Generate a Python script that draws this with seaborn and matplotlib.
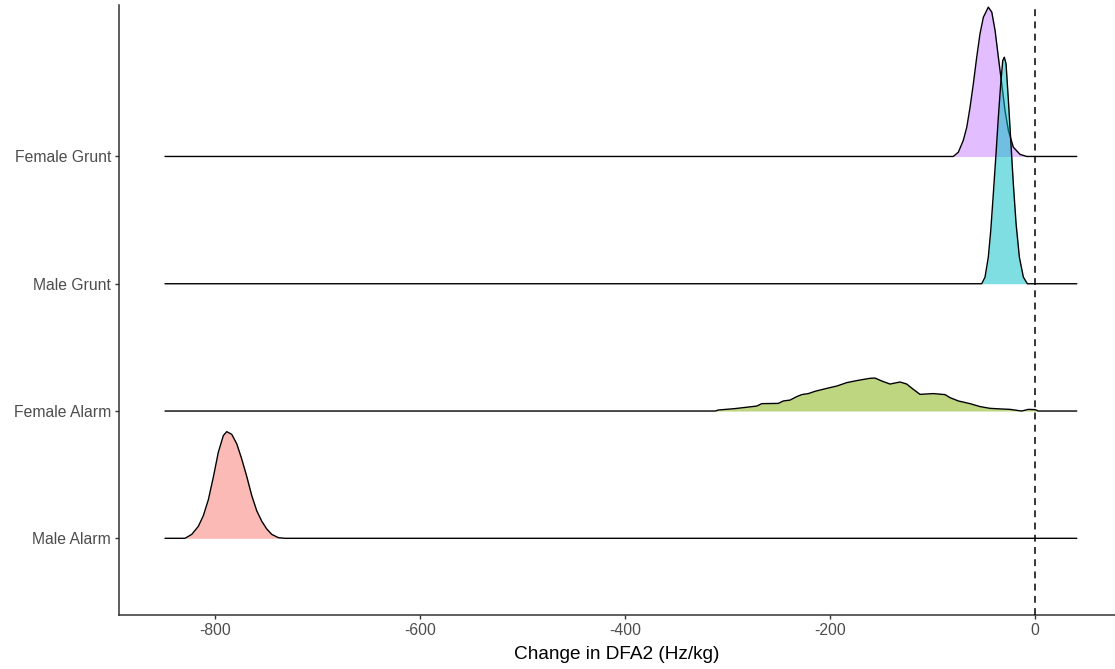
import numpy as np
import pandas as pd
import matplotlib
matplotlib.use("Agg")
import matplotlib.pyplot as plt
import seaborn as sns

# ---------------- data ----------------
groups = ["Male Alarm", "Female Alarm", "Male Grunt", "Female Grunt"]
fill_colors = ["#F8766D", "#7CAE00", "#00BFC4", "#C77CFF"]
x_range = [-848.8, 40.7]

male_alarm_x = [-829.3, -822.7, -816.3, -811.4, -806.5, -801.7, -796.8, -791.9, -788.6, -783.7,
                -778.8, -774.0, -769.1, -764.2, -759.3, -754.4, -749.6, -744.7, -738.2, -731.7]
male_alarm_h = [0.0, 0.031, 0.094, 0.178, 0.304, 0.479, 0.676, 0.807, 0.838, 0.817,
                0.742, 0.624, 0.487, 0.336, 0.216, 0.134, 0.074, 0.031, 0.005, 0.0]

female_alarm_x = [-312.0, -309.0, -292.7, -271.5, -266.6, -250.4, -245.6, -239.0, -232.5, -227.6,
                  -221.2, -214.6, -203.2, -193.5, -183.7, -174.0, -161.0, -156.1, -149.6, -141.5,
                  -131.7, -125.2, -118.7, -112.2, -99.2, -87.8, -82.9, -74.8, -63.4, -53.7,
                  -43.9, -32.5, -24.4, -13.0, -6.5, 0.0, 3.2]
female_alarm_h = [0.0, 0.008, 0.019, 0.039, 0.058, 0.060, 0.079, 0.086, 0.113, 0.129,
                  0.137, 0.155, 0.178, 0.196, 0.223, 0.239, 0.257, 0.259, 0.236, 0.212,
                  0.228, 0.212, 0.170, 0.131, 0.137, 0.129, 0.105, 0.079, 0.058, 0.035,
                  0.021, 0.016, 0.013, 0.0, 0.013, 0.011, 0.0]

male_grunt_x = [-52.0, -48.8, -45.6, -43.2, -40.7, -38.3, -35.8, -33.5, -31.5, -30.0,
                -28.3, -26.0, -23.7, -21.2, -18.5, -15.3, -11.4, -7.5]
male_grunt_h = [0.0, 0.052, 0.209, 0.419, 0.707, 0.994, 1.309, 1.571, 1.754, 1.780,
                1.728, 1.440, 1.126, 0.786, 0.471, 0.209, 0.052, 0.0]

female_grunt_x = [-79.7, -74.8, -70.0, -66.6, -63.4, -60.2, -56.9, -53.7, -50.4, -45.6,
                  -42.2, -39.0, -35.8, -32.5, -29.3, -26.0, -21.2, -14.6, -8.1]
female_grunt_h = [0.0, 0.034, 0.126, 0.230, 0.387, 0.571, 0.780, 0.964, 1.094, 1.173,
                  1.134, 0.990, 0.780, 0.571, 0.361, 0.204, 0.073, 0.016, 0.0]

curves_x = [male_alarm_x, female_alarm_x, male_grunt_x, female_grunt_x]
curves_h = [male_alarm_h, female_alarm_h, male_grunt_h, female_grunt_h]

x_ticks = [-800, -600, -400, -200, 0]
x_label = "Change in DFA2 (Hz/kg)"

# ---------------- build long table ----------------
rows = []
for gi, (g, xs, hs) in enumerate(zip(groups, curves_x, curves_h)):
    base = gi + 1
    xx = [x_range[0]] + list(xs) + [x_range[1]]
    hh = [0.0] + list(hs) + [0.0]
    for order, (a, b) in enumerate(zip(xx, hh)):
        rows.append({"group": g, "x": a, "h": b, "y": base + b, "base": base, "order": order})
df = pd.DataFrame(rows)

# ---------------- plot ----------------
sns.set_theme(style="ticks")
plt.rcParams["font.family"] = ["Liberation Sans", "DejaVu Sans"]

fig = plt.figure(figsize=(11.15, 6.69), dpi=100)
ax = fig.add_axes([119 / 1115, 54 / 669, 1 - 119 / 1115, 610 / 669])

# draw top ridge first so lower ridges overlap upper ones
for gi in reversed(range(len(groups))):
    g = groups[gi]
    sub = df[df["group"] == g].sort_values("order")
    ax.fill_between(sub["x"], sub["base"], sub["y"], color=fill_colors[gi], alpha=0.5,
                    linewidth=0, zorder=2 + (len(groups) - gi) * 2)
    sns.lineplot(data=sub, x="x", y="y", sort=False, estimator=None, color="black",
                 linewidth=1.0, ax=ax, zorder=3 + (len(groups) - gi) * 2)

ax.axvline(0, color="black", linestyle=(0, (4.5, 3.5)), linewidth=1.1, zorder=20)

ax.set_xlim(-893.7, 78.0)
ax.set_ylim(0.3975, 5.19)
ax.set_xticks(x_ticks)
ax.set_xticklabels([str(t) for t in x_ticks])
ax.set_yticks([1, 2, 3, 4])
ax.set_yticklabels(groups)
ax.set_xlabel(x_label, fontsize=13.7, color="black", labelpad=6)
ax.set_ylabel("")

for s in ["top", "right"]:
    ax.spines[s].set_visible(False)
for s in ["left", "bottom"]:
    ax.spines[s].set_color("#333333")
    ax.spines[s].set_linewidth(1.1)
ax.tick_params(axis="both", length=2.6, width=1, color="#333333", labelcolor="#4D4D4D",
               labelsize=11.3, pad=3)
ax.set_facecolor("white")
ax.grid(False)

fig.savefig("out.png", dpi=100, facecolor="white")
